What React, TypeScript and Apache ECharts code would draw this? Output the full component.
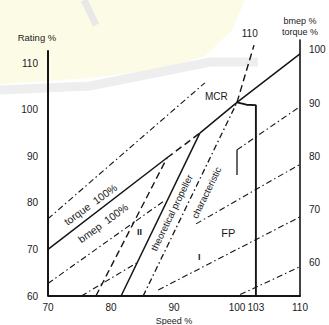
import React, { useEffect, useRef } from "react";
import * as echarts from "echarts";

// ---- axis ticks ----
const speedTicks = [70, 80, 90, 100, 103, 110];
const ratingTicks = [60, 70, 80, 90, 100, 110];
const bmepTorqueTicks = [60, 70, 80, 90, 100];

// ---- lines: [speed %, rating %] ----
const ratingAxisLine = [[70, 60], [70, 112.8]];
const bmep100Lower = [[70, 70], [88.9, 89.7]];
const bmep100Mid = [[88.9, 89.7], [94.1, 95.0]];
const bmep100Upper = [[94.1, 95.0], [100, 101.6], [110, 112.0]];
const torque110 = [[70, 76.6], [94.9, 105.8]];
const bmep90Left = [[70, 62.7], [88.6, 80.6]];
const bmep90Right = [[100, 91.4], [110, 100.7]];
const bmep90Drop = [[100, 91.4], [100, 86.0]];
const bmep80Left = [[75.3, 60], [84.2, 67.2]];
const bmep80Right = [[93.5, 75.5], [110, 88.3]];
const bmep70 = [[87.5, 61.3], [110, 77.0]];
const bmep60 = [[100.5, 60.3], [110, 66.3]];
const heavyPropeller = [[77.6, 60], [88.9, 89.7]];
const propellerCurve = [[81.6, 60], [94.1, 95.0]];
const theoreticalPropeller = [[85.1, 60], [100, 101.6]];
const propellerExtension = [[100, 101.6], [102.7, 113.9]];
const speedLimit103 = [[100, 101.6], [101.5, 101.1], [103, 101.0], [103, 60]];

// ---- annotations ----
const noteTexts = ["MCR", "torque  100%", "bmep  100%", "theoretical propeller", "characteristic", "FP", "II", "I", "110"];
const noteAnchors = [
  [96.8, 102.7],
  [76.8, 79.6],
  [78.8, 75.6],
  [89.7, 77.8],
  [95.2, 82.1],
  [98.7, 73.5],
  [84.6, 73.7],
  [94.1, 68.2],
  [102.1, 116.3],
];

const INK = "#151515";
const TEXT = "#1a1a1a";
const FONT = "Liberation Sans";
const DASH = [7, 4];
const DASHDOT = [6, 3, 1.5, 3];

function lineSeries(data: number[][], type: any, width: number) {
  return {
    type: "line",
    data,
    symbol: "none",
    showSymbol: false,
    clip: false,
    silent: true,
    z: 3,
    lineStyle: { color: INK, width, type },
  };
}

export default function App() {
  const ref = useRef<HTMLDivElement>(null);
  useEffect(() => {
    document.body.style.margin = "0";
    if (!ref.current) return;
    const chart = echarts.init(ref.current, null, { renderer: "svg" });
    const rotations = [0, 36, 36, 64, 64, 0, 0, 0, 0];
    const sizes = [10, 10.5, 10.5, 9.5, 9.5, 11, 9, 9, 10];
    const weights = ["normal", "normal", "normal", "normal", "normal", "normal", "bold", "bold", "normal"];
    const option: any = {
      animation: false,
      backgroundColor: "#ffffff",
      textStyle: { fontFamily: FONT },
      grid: { left: 48, right: 29, top: 40, bottom: 29, containLabel: false, outerBoundsMode: "none" },
      xAxis: {
        type: "value",
        min: 70,
        max: 110,
        axisLine: { show: true, onZero: false, lineStyle: { color: INK, width: 1.8 } },
        axisTick: { show: false },
        splitLine: { show: false },
        axisLabel: { customValues: speedTicks, margin: 6, fontSize: 10, color: TEXT, fontFamily: FONT },
        name: "Speed %",
        nameLocation: "middle",
        nameGap: 17,
        nameTextStyle: { fontSize: 9, color: TEXT, fontFamily: FONT },
      },
      yAxis: [
        {
          type: "value",
          position: "left",
          min: 60,
          max: 115,
          axisLine: { show: false },
          axisTick: { show: false },
          splitLine: { show: false },
          axisLabel: { customValues: ratingTicks, margin: 10, fontSize: 10, color: TEXT, fontFamily: FONT },
          name: "Rating %",
          nameLocation: "end",
          nameGap: -2,
          nameTextStyle: { fontSize: 9.5, color: TEXT, fontFamily: FONT, align: "center", padding: [0, 22, 0, 0] },
        },
        {
          type: "value",
          position: "right",
          min: 53.8,
          max: 101.87,
          axisLine: { show: true, onZero: false, lineStyle: { color: INK, width: 1.6 } },
          axisTick: { show: false },
          splitLine: { show: false },
          axisLabel: { customValues: bmepTorqueTicks, margin: 9, fontSize: 10, color: TEXT, fontFamily: FONT },
          name: "bmep %\ntorque %",
          nameLocation: "end",
          nameGap: 3,
          nameTextStyle: { fontSize: 9, color: TEXT, fontFamily: FONT, align: "center", lineHeight: 11 },
        },
      ],
      graphic: [
        {
          type: "polygon",
          z: -100,
          silent: true,
          shape: { points: [[0, 0], [245, 0], [232, 30], [205, 56], [165, 68], [90, 78], [0, 84]] },
          style: { fill: "#fcfbe6" },
        },
        {
          type: "polyline",
          z: -99,
          silent: true,
          shape: { points: [[0, 90], [90, 86], [170, 70], [210, 62], [258, 62]] },
          style: { stroke: "#eeeeee", lineWidth: 9, fill: null },
        },
        {
          type: "polyline",
          z: -99,
          silent: true,
          shape: { points: [[84, 0], [96, 25]] },
          style: { stroke: "#e8e8e8", lineWidth: 7, fill: null },
        },
      ],
      series: [
        lineSeries(ratingAxisLine, "solid", 2),
        lineSeries(bmep100Lower, "solid", 1.5),
        lineSeries(bmep100Mid, DASH, 1.5),
        lineSeries(bmep100Upper, "solid", 1.5),
        lineSeries(torque110, DASHDOT, 1.1),
        lineSeries(bmep90Left, DASHDOT, 1.1),
        lineSeries(bmep90Right, DASHDOT, 1.1),
        lineSeries(bmep90Drop, "solid", 1.3),
        lineSeries(bmep80Left, DASHDOT, 1.1),
        lineSeries(bmep80Right, DASHDOT, 1.1),
        lineSeries(bmep70, DASHDOT, 1.1),
        lineSeries(bmep60, DASHDOT, 1.1),
        lineSeries(heavyPropeller, DASH, 1.4),
        lineSeries(propellerCurve, "solid", 1.5),
        lineSeries(theoreticalPropeller, DASHDOT, 1.3),
        lineSeries(propellerExtension, DASH, 1.4),
        lineSeries(speedLimit103, "solid", 1.9),
        {
          type: "scatter",
          silent: true,
          clip: false,
          z: 4,
          symbol: "circle",
          symbolSize: 1,
          itemStyle: { color: TEXT, opacity: 0 },
          data: noteTexts.map((t, i) => ({
            value: noteAnchors[i],
            label: {
              show: true,
              position: [0, 0],
              align: "center",
              verticalAlign: "middle",
              formatter: t,
              rotate: rotations[i],
              fontSize: sizes[i],
              fontWeight: weights[i],
              color: TEXT,
              opacity: 1,
              fontFamily: FONT,
            },
          })),
        },
      ],
    };
    chart.setOption(option);
    return () => chart.dispose();
  }, []);
  return <div ref={ref} style={{ width: 329, height: 325 }} />;
}
